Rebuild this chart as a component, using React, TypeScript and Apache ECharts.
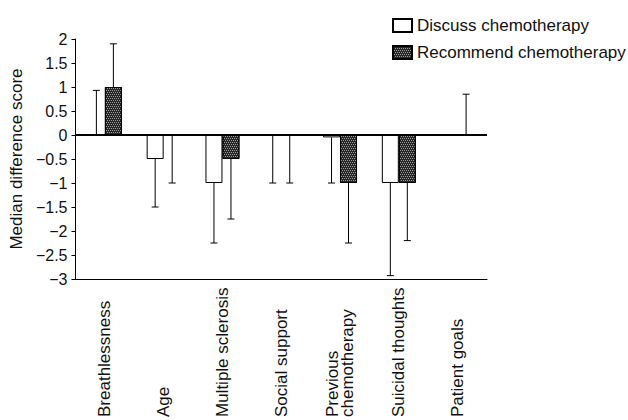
import React, { useEffect, useRef } from "react";
import * as echarts from "echarts";

const categories = [
  "Breathlessness",
  "Age",
  "Multiple sclerosis",
  "Social support",
  "Previous\nchemotherapy",
  "Suicidal thoughts",
  "Patient goals",
];
const discussMedian = [0, -0.5, -1, 0, -0.05, -1, 0];
const discussError: (number | null)[] = [0.93, -1.5, -2.25, -1, -1, -2.93, null];
const recommendMedian = [1, 0, -0.5, 0, -1, -1, 0];
const recommendError: (number | null)[] = [1.9, -1, -1.75, -1, -2.25, -2.2, 0.85];
const yTicks = { min: -3, max: 2, step: 0.5 };

const FONT = "'Liberation Sans', Arial, sans-serif";
const BAR_W = 17;

function errorData(median: number[], err: (number | null)[]) {
  const out: number[][] = [];
  err.forEach((e, i) => {
    if (e !== null) out.push([i, median[i], e]);
  });
  return out;
}

function makeErrorSeries(name: string, median: number[], err: (number | null)[], offset: number) {
  return {
    type: "custom",
    name: name + " error",
    data: errorData(median, err),
    z: 5,
    silent: true,
    encode: { x: 0, y: [1, 2] },
    renderItem: (params: any, api: any) => {
      const i = api.value(0);
      const a = api.coord([i, api.value(1)]);
      const b = api.coord([i, api.value(2)]);
      const x = a[0] + offset;
      const style = { stroke: "#000", lineWidth: 1 };
      return {
        type: "group",
        children: [
          { type: "line", shape: { x1: x, y1: a[1], x2: x, y2: b[1] }, style },
          { type: "line", shape: { x1: x - 3.5, y1: b[1], x2: x + 3.5, y2: b[1] }, style },
        ],
      };
    },
  };
}

export default function App() {
  const ref = useRef<HTMLDivElement>(null);
  useEffect(() => {
    if (!ref.current) return;
    const chart = echarts.init(ref.current, null, { renderer: "svg" });
    chart.setOption({
      animation: false,
      textStyle: { fontFamily: FONT },
      legend: {
        orient: "vertical",
        left: 387,
        top: 12,
        itemWidth: 19,
        itemHeight: 13,
        itemGap: 10,
        selectedMode: false,
        icon: "rect",
        textStyle: { fontSize: 17, color: "#111", fontFamily: FONT },
        data: ["Discuss chemotherapy", "Recommend chemotherapy"],
      },
      grid: { left: 71, right: 141, top: 39, bottom: 139, containLabel: false },
      xAxis: {
        type: "category",
        data: categories,
        axisLine: { onZero: false, lineStyle: { color: "#000", width: 1 } },
        axisTick: { show: false },
        axisLabel: {
          rotate: 90,
          align: "left",
          verticalAlign: "middle",
          margin: 138,
          interval: 0,
          fontSize: 17,
          lineHeight: 15,
          color: "#111",
          fontFamily: FONT,
        },
      },
      yAxis: {
        type: "value",
        min: yTicks.min,
        max: yTicks.max,
        interval: yTicks.step,
        name: "Median difference score",
        nameLocation: "middle",
        nameGap: 45,
        nameTextStyle: { fontSize: 17, color: "#111", fontFamily: FONT },
        axisLine: { show: true, lineStyle: { color: "#000", width: 1 } },
        axisTick: { show: true, length: 4, lineStyle: { color: "#000" } },
        splitLine: { show: false },
        axisLabel: {
          margin: 8,
          fontSize: 16,
          color: "#111",
          fontFamily: FONT,
          formatter: (v: number) => (v < 0 ? "\u2212" + String(-v) : String(v)),
        },
      },
      series: [
        {
          type: "bar",
          name: "Discuss chemotherapy",
          data: discussMedian,
          barWidth: BAR_W,
          barGap: "0%",
          itemStyle: { color: "#fff", borderColor: "#000", borderWidth: 1 },
          markLine: {
            silent: true,
            symbol: "none",
            label: { show: false },
            lineStyle: { color: "#000", width: 2, type: "solid" },
            data: [{ yAxis: 0 }],
          },
        },
        {
          type: "bar",
          name: "Recommend chemotherapy",
          data: recommendMedian,
          barWidth: BAR_W,
          barGap: "0%",
          itemStyle: {
            color: "#262626",
            borderColor: "#000",
            borderWidth: 1,
            decal: {
              symbol: "rect",
              symbolSize: 1,
              color: "rgba(255,255,255,0.55)",
              dashArrayX: [[1, 1], [0, 1, 1, 0]],
              dashArrayY: [1, 1],
            },
          },
        },
        makeErrorSeries("Discuss chemotherapy", discussMedian, discussError, -BAR_W / 2),
        makeErrorSeries("Recommend chemotherapy", recommendMedian, recommendError, BAR_W / 2),
      ],
    });
    return () => chart.dispose();
  }, []);
  return <div ref={ref} style={{ width: 628, height: 420, position: "absolute", left: 0, top: 0 }} />;
}
